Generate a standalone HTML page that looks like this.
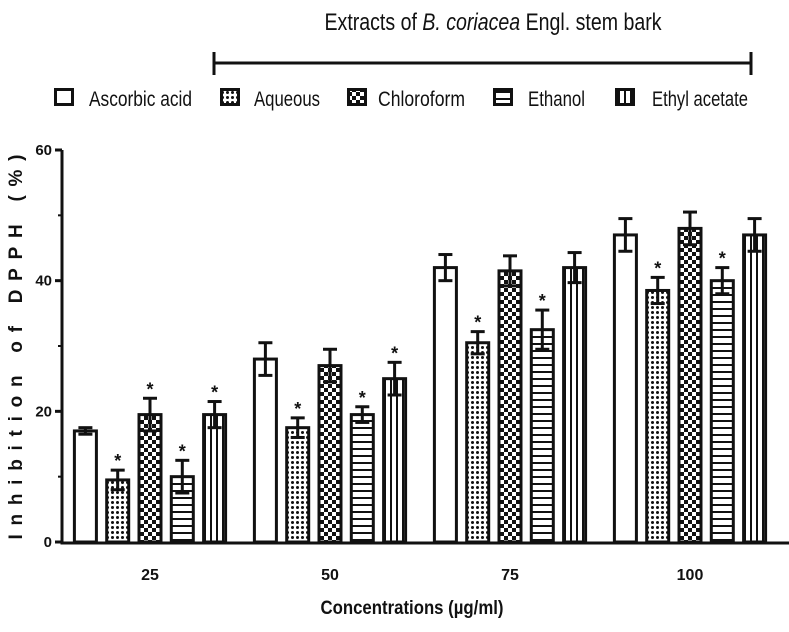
<!DOCTYPE html>
<html><head><meta charset="utf-8"><style>body{margin:0;background:#fff}svg{display:block}text{font-family:"Liberation Sans",sans-serif;fill:#111}</style></head>
<body>
<svg id="c" width="789" height="632" viewBox="0 0 789 632">
<defs>
<pattern id="pDot" width="5" height="5" patternUnits="userSpaceOnUse"><rect width="5" height="5" fill="#fff"/><circle cx="2.5" cy="2.5" r="1.5" fill="#111"/></pattern>
<pattern id="pChk" width="8" height="8" patternUnits="userSpaceOnUse"><rect width="8" height="8" fill="#fff"/><rect width="4" height="4" fill="#111"/><rect x="4" y="4" width="4" height="4" fill="#111"/></pattern>
<pattern id="pHor" width="6" height="7" patternUnits="userSpaceOnUse"><rect width="6" height="7" fill="#fff"/><rect y="0" width="6" height="2" fill="#111"/></pattern>
<pattern id="pVer" width="6" height="6" patternUnits="userSpaceOnUse"><rect width="6" height="6" fill="#fff"/><rect x="0" width="2" height="6" fill="#111"/></pattern>
</defs>
<text x="493" y="30" font-size="24" text-anchor="middle" textLength="337" lengthAdjust="spacingAndGlyphs">Extracts of <tspan font-style="italic">B. coriacea</tspan> Engl. stem bark</text>
<g stroke="#111" stroke-width="3"><line x1="214" y1="63" x2="751" y2="63"/><line x1="214" y1="52" x2="214" y2="75"/><line x1="751" y1="52" x2="751" y2="75"/></g>
<g id="legend"></g>
<g id="plot"></g>
<text x="412" y="614" font-size="19" font-weight="bold" text-anchor="middle" textLength="183" lengthAdjust="spacingAndGlyphs">Concentrations (µg/ml)</text>
<text transform="translate(22,347) rotate(-90)" font-size="19" font-weight="bold" text-anchor="middle" textLength="385" lengthAdjust="spacing">Inhibition of DPPH (%)</text>
</svg>
<script>
const categories=["25","50","75","100"];
const seriesNames=["Ascorbic acid","Aqueous","Chloroform","Ethanol","Ethyl acetate"];
const ascorbic=[17,28,42,47];
const aqueous=[9.5,17.5,30.5,38.5];
const chloroform=[19.5,27,41.5,48];
const ethanol=[10,19.5,32.5,40];
const ethylAcetate=[19.5,25,42,47];
const errAscorbic=[0.5,2.5,2,2.5];
const errAqueous=[1.5,1.5,1.7,2];
const errChloroform=[2.5,2.5,2.3,2.5];
const errEthanol=[2.5,1.2,3,2];
const errEthyl=[2,2.5,2.3,2.5];
const starAscorbic=[0,0,0,0];
const starAqueous=[1,1,1,1];
const starChloroform=[1,0,0,0];
const starEthanol=[1,1,1,1];
const starEthyl=[1,1,0,0];
const yTicks=[0,20,40,60];
const series=[ascorbic,aqueous,chloroform,ethanol,ethylAcetate];
const errs=[errAscorbic,errAqueous,errChloroform,errEthanol,errEthyl];
const stars=[starAscorbic,starAqueous,starChloroform,starEthanol,starEthyl];
const fills=["#fff","url(#pDot)","url(#pChk)","url(#pHor)","url(#pVer)"];
const NS="http://www.w3.org/2000/svg";
const y0=542,yTop=150,yMax=60;
const y=v=>y0-(y0-yTop)*v/yMax;
const groupX=i=>150+180*i;
const barW=22,step=32.3;
const plot=document.getElementById('plot');
function mk(tag,at,parent){const e=document.createElementNS(NS,tag);for(const k in at)e.setAttribute(k,at[k]);(parent||plot).appendChild(e);return e;}
categories.forEach((c,i)=>{
 series.forEach((s,j)=>{
  const cx=groupX(i)+(j-2)*step;
  const r=mk('rect',{x:cx-barW/2,y:y(s[i]),width:barW,height:y0-y(s[i]),fill:fills[j],stroke:'#111','stroke-width':3});
  
  
  const t=y(s[i]+errs[j][i]),b=y(s[i]-errs[j][i]);
  const g=mk('g',{stroke:'#111','stroke-width':3});
  
  
  mk('line',{x1:cx,x2:cx,y1:t,y2:b},g);
  mk('line',{x1:cx-7,x2:cx+7,y1:t,y2:t},g);
  mk('line',{x1:cx-7,x2:cx+7,y1:b,y2:b},g);
  if(stars[j][i]){const st=mk('text',{x:cx,y:t-3,'font-size':18,'font-weight':'bold','text-anchor':'middle'});st.textContent='*';
   
   }
 });
 const tl=mk('text',{x:groupX(i),y:580,'font-size':16,'font-weight':'bold','text-anchor':'middle'});tl.textContent=c;
 
 
});
const ax=mk('path',{d:`M62 ${yTop} V${y0+1} H789`,fill:'none',stroke:'#111','stroke-width':3});


yTicks.forEach(v=>{
 mk('line',{x1:55,x2:62,y1:y(v),y2:y(v),stroke:'#111','stroke-width':3});
 const t=mk('text',{x:52,y:y(v)+5,'font-size':15,'font-weight':'bold','text-anchor':'end'});t.textContent=v;
 
 
});
for(let v=10;v<60;v+=20)mk('line',{x1:58,x2:62,y1:y(v),y2:y(v),stroke:'#111','stroke-width':2});
const leg=document.getElementById('legend');
const legBox=[54,220,347,493,615],legTxt=[89,254,378,528,652],legW=[103,66,87,57,96];
seriesNames.forEach((n,j)=>{
 const b=mk('rect',{x:legBox[j]+1.5,y:89.5,width:17,height:15,fill:fills[j],stroke:'#111','stroke-width':3},leg);
 
 
 const t=mk('text',{x:legTxt[j],y:106,'font-size':21,textLength:legW[j],lengthAdjust:'spacingAndGlyphs'},leg);t.textContent=n;
 
 
});
</script>
</body></html>
